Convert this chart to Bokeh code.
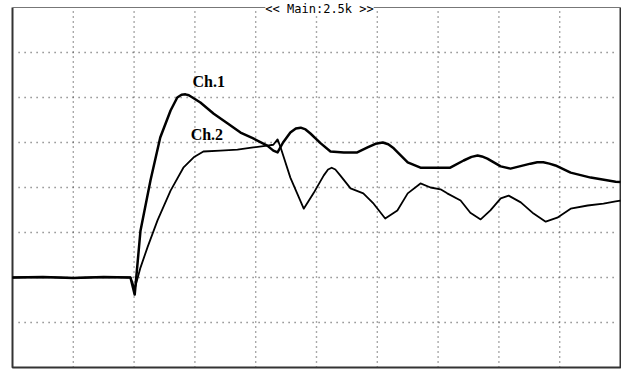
from bokeh.plotting import figure
from bokeh.models import Range1d, Label
from bokeh.embed import file_html
from bokeh.resources import INLINE

# Oscilloscope screen: 10 horizontal divisions, 8 vertical divisions
x_divs = list(range(1, 10))
y_divs = list(range(1, 8))

# Channel 1 trace (x in divisions, y in divisions)
ch1_x = [0.0, 0.5, 1.0, 1.5, 1.94, 2.01, 2.105, 2.27, 2.43, 2.60, 2.71, 2.78, 2.845, 2.90, 2.96,
         3.09, 3.31, 3.54, 3.75, 3.96, 4.19, 4.29, 4.36, 4.45, 4.57, 4.66, 4.74, 4.82, 4.90,
         5.07, 5.23, 5.45, 5.67, 5.84, 5.97, 6.09, 6.18, 6.27, 6.50, 6.71, 7.04, 7.20, 7.42,
         7.55, 7.65, 7.72, 7.81, 8.03, 8.19, 8.52, 8.63, 8.73, 8.83, 8.93, 9.18, 9.51, 9.92, 10.0]
ch1_y = [2.0, 2.01, 1.99, 2.01, 2.0, 1.62, 3.04, 4.16, 5.11, 5.71, 6.0, 6.06, 6.07, 6.05, 6.0,
         5.89, 5.64, 5.42, 5.22, 5.09, 4.93, 4.82, 4.78, 5.0, 5.22, 5.31, 5.33, 5.29, 5.2,
         4.98, 4.80, 4.78, 4.78, 4.89, 4.97, 5.0, 4.96, 4.87, 4.56, 4.44, 4.44, 4.44, 4.6,
         4.68, 4.71, 4.69, 4.64, 4.47, 4.42, 4.53, 4.56, 4.56, 4.53, 4.49, 4.33, 4.22, 4.13, 4.12]

# Channel 2 trace
ch2_x = [0.0, 0.5, 1.0, 1.5, 1.94, 2.01, 2.105, 2.22, 2.385, 2.60, 2.81, 2.98, 3.14,
         3.42, 3.70, 3.96, 4.19, 4.29, 4.36, 4.41, 4.57, 4.79, 4.95, 5.12, 5.19, 5.25, 5.31,
         5.39, 5.56, 5.77, 5.94, 6.13, 6.33, 6.50, 6.71, 6.875, 7.04, 7.15, 7.37,
         7.53, 7.70, 7.86, 8.03, 8.16, 8.36, 8.57, 8.77, 8.96, 9.18, 9.46, 9.72,
         9.92, 10.0]
ch2_y = [2.0, 2.01, 1.99, 2.01, 2.0, 1.75, 2.22, 2.67, 3.27, 3.93, 4.44, 4.67, 4.80,
         4.82, 4.84, 4.89, 4.93, 4.95, 5.07, 4.89, 4.22, 3.53, 3.87, 4.27, 4.40, 4.44, 4.40,
         4.27, 3.98, 3.87, 3.64, 3.31, 3.49, 3.87, 4.09, 4.0, 3.96, 3.87, 3.71,
         3.44, 3.29, 3.49, 3.76, 3.82, 3.67, 3.42, 3.24, 3.33, 3.53, 3.6, 3.64,
         3.69, 3.71]

title_text = "<< Main:2.5k >>"

p = figure(width=621, height=370, output_backend="svg", toolbar_location=None,
           x_range=Range1d(-12 / 60.8, 609 / 60.8),
           y_range=Range1d(-3 / 45, 367 / 45),
           min_border=0, min_border_left=0, min_border_right=0,
           min_border_top=0, min_border_bottom=0)
p.axis.visible = False
p.grid.visible = False
p.outline_line_color = None
p.background_fill_color = "white"
p.border_fill_color = "white"

# dotted graticule
p.segment(x0=x_divs, y0=[0.0] * len(x_divs), x1=x_divs, y1=[8.0] * len(x_divs),
          line_color="#555555", line_width=1.4, line_dash="1 4")
p.segment(x0=[0.1] * len(y_divs), y0=y_divs, x1=[9.95] * len(y_divs), y1=y_divs,
          line_color="#555555", line_width=1.4, line_dash="1 5")

# frame
p.line([0, 0, 10, 10], [8, 0, 0, 8], line_color="#333333", line_width=2)
p.line([0, 10], [8, 8], line_color="#777777", line_width=1)

# traces
p.line(ch2_x, ch2_y, line_color="black", line_width=1.8, line_join="round")
p.line(ch1_x, ch1_y, line_color="black", line_width=2.5, line_join="round")

p.add_layout(Label(x=2.96, y=6.16, text="Ch.1", text_font="Liberation Serif",
                   text_font_style="bold", text_font_size="16px", text_color="black"))
p.add_layout(Label(x=2.93, y=4.98, text="Ch.2", text_font="Liberation Serif",
                   text_font_style="bold", text_font_size="16px", text_color="black"))

p.add_layout(Label(x=5.05, y=8.13, text=title_text, text_font="DejaVu Sans Mono",
                   text_font_size="12px", text_color="black", text_align="center",
                   text_baseline="top", background_fill_color="white"))

open("out.html", "w").write(file_html(p, INLINE))
